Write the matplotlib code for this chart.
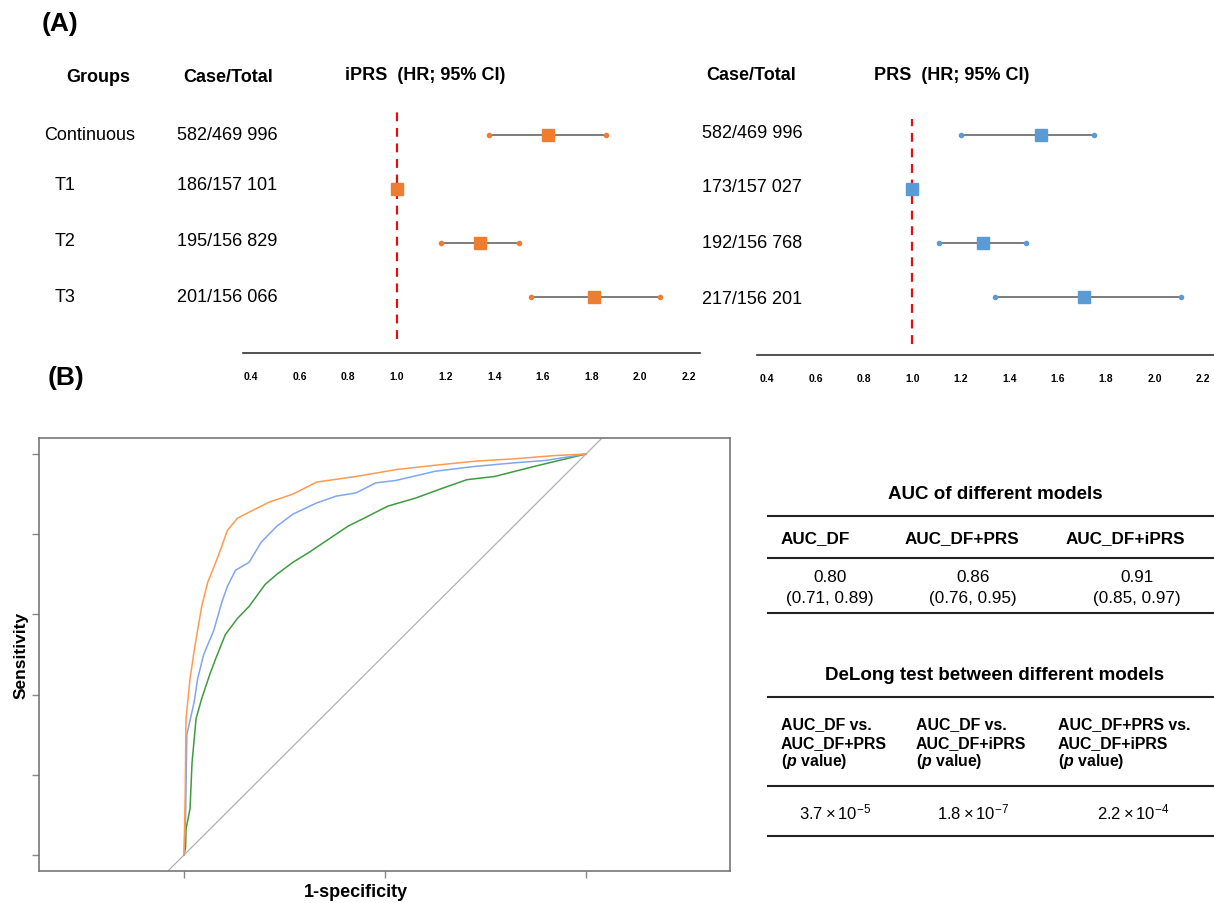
import numpy as np
import matplotlib
matplotlib.use('Agg')
import matplotlib.pyplot as plt
from matplotlib.patches import Rectangle

plt.rcParams['font.family'] = ['Liberation Sans', 'DejaVu Sans']
plt.rcParams['mathtext.fontset'] = 'custom'
plt.rcParams['mathtext.rm'] = 'Liberation Sans'
plt.rcParams['mathtext.it'] = 'Liberation Sans:italic:bold'
plt.rcParams['mathtext.bf'] = 'Liberation Sans:bold'

W, H = 1214, 904

# ---- forest plot data ----
groups = ['Continuous', 'T1', 'T2', 'T3']
iprs_case = ['582/469 996', '186/157 101', '195/156 829', '201/156 066']
iprs_hr = [1.62, 1.00, 1.34, 1.81]
iprs_lo = [1.38, np.nan, 1.18, 1.55]
iprs_hi = [1.86, np.nan, 1.50, 2.08]
prs_case = ['582/469 996', '173/157 027', '192/156 768', '217/156 201']
prs_hr = [1.53, 1.00, 1.29, 1.71]
prs_lo = [1.20, np.nan, 1.11, 1.34]
prs_hi = [1.75, np.nan, 1.47, 2.11]
hr_ticks = [0.4, 0.6, 0.8, 1.0, 1.2, 1.4, 1.6, 1.8, 2.0, 2.2]

# ---- ROC data (1-specificity, sensitivity) ----
fpr_df = [0, 0.004, 0.005, 0.015, 0.02, 0.03, 0.044, 0.064, 0.079, 0.103, 0.133, 0.162,
          0.202, 0.231, 0.271, 0.31, 0.359, 0.408, 0.458, 0.507, 0.576, 0.644, 0.704,
          0.773, 0.871, 1.0]
tpr_df = [0, 0.02, 0.065, 0.115, 0.23, 0.34, 0.39, 0.45, 0.49, 0.55, 0.59, 0.62,
          0.675, 0.70, 0.73, 0.754, 0.787, 0.82, 0.845, 0.87, 0.89, 0.915, 0.936,
          0.944, 0.969, 1.0]
fpr_prs = [0, 0.004, 0.007, 0.025, 0.034, 0.049, 0.074, 0.094, 0.108, 0.128, 0.162, 0.192,
           0.231, 0.271, 0.33, 0.379, 0.428, 0.477, 0.527, 0.625, 0.723, 0.822, 0.9, 1.0]
tpr_prs = [0, 0.1, 0.30, 0.38, 0.44, 0.50, 0.56, 0.63, 0.67, 0.71, 0.73, 0.78,
           0.82, 0.85, 0.878, 0.895, 0.903, 0.928, 0.934, 0.957, 0.969, 0.978, 0.984, 1.0]
fpr_iprs = [0, 0.003, 0.005, 0.015, 0.027, 0.044, 0.059, 0.079, 0.094, 0.108, 0.133, 0.172,
            0.212, 0.271, 0.33, 0.428, 0.527, 0.625, 0.723, 0.822, 0.92, 1.0]
tpr_iprs = [0, 0.15, 0.34, 0.44, 0.52, 0.62, 0.68, 0.73, 0.77, 0.81, 0.84, 0.86,
            0.88, 0.90, 0.93, 0.944, 0.961, 0.972, 0.982, 0.988, 0.996, 1.0]
roc_labels = ['Demographic factors', 'Demographic factors + PRS', 'Demographic factors + iPRS']
roc_line_colors = ['#3f9b3f', '#7fa6ee', '#ff9a50']
roc_legend_colors = ['#548235', '#8faadc', '#f4b183']

# ---- tables ----
auc_names = ['AUC_DF', 'AUC_DF+PRS', 'AUC_DF+iPRS']
auc_est = [0.80, 0.86, 0.91]
auc_lo = [0.71, 0.76, 0.85]
auc_hi = [0.89, 0.95, 0.97]
delong_heads = [['AUC_DF vs.', 'AUC_DF+PRS'], ['AUC_DF vs.', 'AUC_DF+iPRS'],
                ['AUC_DF+PRS vs.', 'AUC_DF+iPRS']]
delong_mant = [3.7, 1.8, 2.2]
delong_exp = [-5, -7, -4]

fig = plt.figure(figsize=(W / 100, H / 100), dpi=100)


def px_axes(l, t, r, b):
    return fig.add_axes([l / W, 1 - b / H, (r - l) / W, (b - t) / H])


# overlay for free text in pixel coords
ov = px_axes(0, 0, W, H)
ov.set_xlim(0, W)
ov.set_ylim(H, 0)
ov.axis('off')


def forest(l, t, r, b, x0px, ppu, hr, lo, hi, color, red_top, red_bot):
    ax = px_axes(l, t, r, b)
    xmin = 0.4 - (x0px - l) / ppu
    ax.set_xlim(xmin, xmin + (r - l) / ppu)
    ax.set_ylim((b - 136) / 54, (t - 136) / 54)
    ypos = np.arange(len(hr))
    ax.axvline(1.0, ymin=(b - red_bot) / (b - t), ymax=(b - red_top) / (b - t),
               color='#e01010', ls=(0, (4, 3)), lw=1.6, zorder=1)
    for y, h, a, c in zip(ypos, hr, lo, hi):
        if not np.isnan(a):
            ax.plot([a, c], [y, y], color='#666666', lw=1.2, zorder=2)
            ax.plot([a, c], [y, y], 'o', color=color, ms=3, zorder=3)
        ax.plot(h, y, 's', color=color, ms=8, zorder=4)
    for s in ['top', 'left', 'right']:
        ax.spines[s].set_visible(False)
    ax.spines['bottom'].set_color('#333333')
    ax.spines['bottom'].set_linewidth(1.2)
    ax.set_yticks([])
    ax.set_xticks(hr_ticks)
    ax.set_xticklabels(['%.1f' % v for v in hr_ticks], fontsize=7.5, fontweight='bold')
    ax.tick_params(axis='x', length=0, pad=13)
    ax.patch.set_alpha(0)
    return ax


forest(243, 100, 700, 354, 251, 243.3, iprs_hr, iprs_lo, iprs_hi, '#ed7d31', 110, 340)
forest(757, 100, W, 356, 767, 242.2, prs_hr, prs_lo, prs_hi, '#5b9bd5', 120, 345)

# forest texts
ov.text(42, 24, '(A)', fontsize=19, fontweight='bold', va='center', ha='left')
ov.text(98, 77, 'Groups', fontsize=13, fontweight='bold', ha='center', va='center')
ov.text(228, 78, 'Case/Total', fontsize=13, fontweight='bold', ha='center', va='center')
ov.text(425, 76, 'iPRS  (HR; 95% CI)', fontsize=13, fontweight='bold', ha='center', va='center')
ov.text(751, 76, 'Case/Total', fontsize=13, fontweight='bold', ha='center', va='center')
ov.text(952, 76, 'PRS  (HR; 95% CI)', fontsize=13, fontweight='bold', ha='center', va='center')
row_y_left = [136, 186, 242, 298]
row_y_right = [134, 188, 243, 300]
group_x = [90, 65, 65, 65]
for g, gx, y in zip(groups, group_x, row_y_left):
    ov.text(gx, y, g, fontsize=13, ha='center', va='center')
for c, y in zip(iprs_case, row_y_left):
    ov.text(177, y, c, fontsize=13, ha='left', va='center')
for c, y in zip(prs_case, row_y_right):
    ov.text(752, y, c, fontsize=13, ha='center', va='center')

# ---- ROC ----
ov.text(48, 378, '(B)', fontsize=19, fontweight='bold', va='center', ha='left')
rax = px_axes(39, 439, 730, 872)
rax.set_xlim((39 - 184) / 402, (730 - 184) / 402)
rax.set_ylim((856 - 872) / 401, (856 - 439) / 401)
rax.axline((0, 0), (1, 1), color='#b0b0b0', lw=0.9, zorder=1)
for fx, ty, col in zip([fpr_df, fpr_prs, fpr_iprs], [tpr_df, tpr_prs, tpr_iprs], roc_line_colors):
    rax.plot(fx, ty, color=col, lw=1.1, zorder=2)
rax.set_xticks([0, 0.5, 1.0])
rax.set_yticks([0, 0.2, 0.4, 0.6, 0.8, 1.0])
rax.set_xticklabels([])
rax.set_yticklabels([])
rax.tick_params(length=5, color='#888888', width=1)
for s in rax.spines.values():
    s.set_color('#777777')
    s.set_linewidth(1.2)
ov.text(356, 893, '1-specificity', fontsize=13, fontweight='bold', ha='center', va='center')
ov.text(21, 655, 'Sensitivity', fontsize=12.5, fontweight='bold', ha='center', va='center',
        rotation=90)

leg_y = [740, 788, 832]
for lab, col, y in zip(roc_labels, roc_legend_colors, leg_y):
    ov.add_patch(Rectangle((483, y), 30, 31, facecolor=col, edgecolor='none'))
    ov.text(519, y + 16, lab, fontsize=9.5, ha='left', va='center')

# ---- AUC table ----
ov.text(995, 495, 'AUC of different models', fontsize=13.5, fontweight='bold',
        ha='center', va='center')
for y in [517, 559, 614]:
    ov.plot([768, W], [y, y], color='#222222', lw=1.5)
head_x = [781, 905, 1066]
val_x = [830, 973, 1137]
for name, hx in zip(auc_names, head_x):
    ov.text(hx, 539, name, fontsize=12.3, fontweight='bold', ha='left', va='center')
for e, lo, hi, vx in zip(auc_est, auc_lo, auc_hi, val_x):
    ov.text(vx, 578, '%.2f' % e, fontsize=12.3, ha='center', va='center')
    ov.text(vx, 599, '(%.2f, %.2f)' % (lo, hi), fontsize=12.3, ha='center', va='center')

# ---- DeLong table ----
ov.text(995, 676, 'DeLong test between different models', fontsize=13.5, fontweight='bold',
        ha='center', va='center')
for y in [698, 787, 837]:
    ov.plot([768, W], [y, y], color='#222222', lw=1.5)
dl_x = [781, 916, 1058]
dl_val_x = [835, 973, 1133]
for heads, dx in zip(delong_heads, dl_x):
    ov.text(dx, 725, heads[0], fontsize=11.4, fontweight='bold', ha='left', va='center')
    ov.text(dx, 744, heads[1], fontsize=11.4, fontweight='bold', ha='left', va='center')
    ov.text(dx, 762, r'($\mathit{p}$ value)', fontsize=11.4, fontweight='bold', ha='left', va='center')
for m, ex, vx in zip(delong_mant, delong_exp, dl_val_x):
    ov.text(vx, 812, r'$\mathrm{%.1f \times 10^{%d}}$' % (m, ex), fontsize=12,
            ha='center', va='center')

fig.savefig('out.png', dpi=100)
